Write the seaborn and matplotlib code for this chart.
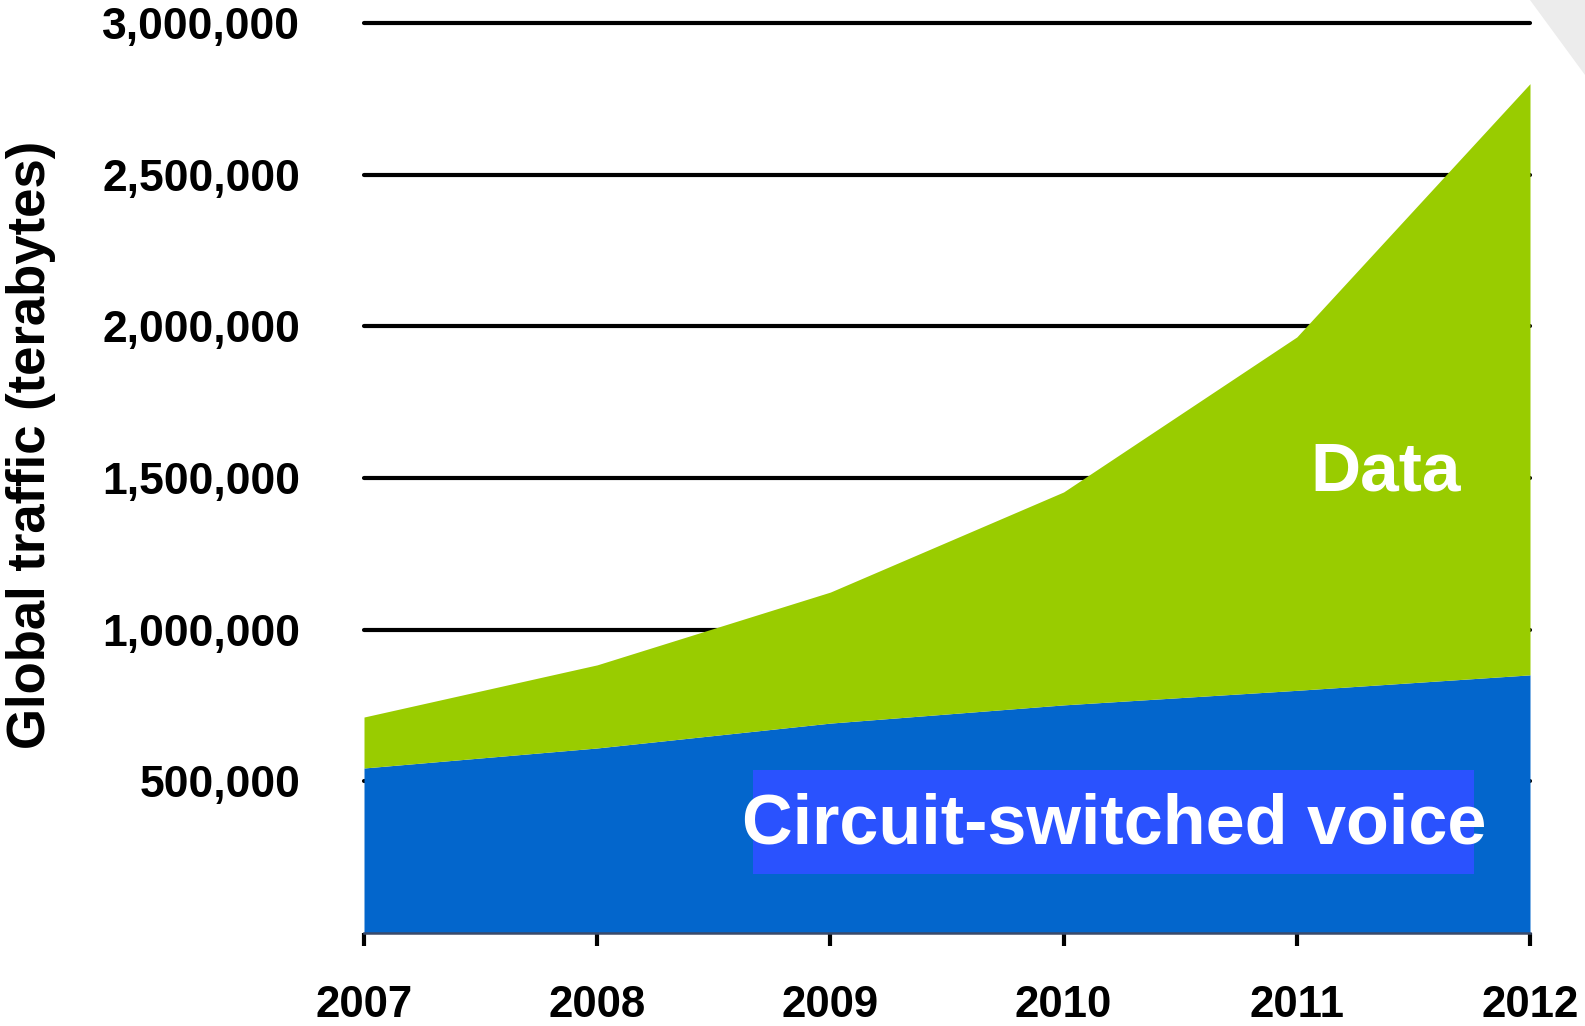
import numpy as np
import pandas as pd
import seaborn as sns
import matplotlib
matplotlib.use("Agg")
import matplotlib.pyplot as plt
from matplotlib.patches import Rectangle, Polygon

# ---- data ----
years = [2007, 2008, 2009, 2010, 2011, 2012]
voice = [544000, 610000, 692000, 752000, 800000, 851000]
data_traffic = [168000, 274000, 432000, 702000, 1165000, 1949000]
y_ticks = [500000, 1000000, 1500000, 2000000, 2500000, 3000000]
y_tick_labels = ["500,000", "1,000,000", "1,500,000", "2,000,000", "2,500,000", "3,000,000"]
series_names = ["Circuit-switched voice", "Data"]

sns.set_theme(style="white")
plt.rcParams['font.family'] = ['Liberation Sans', 'DejaVu Sans']

W, H = 1585, 1026
fig = plt.figure(figsize=(W / 100, H / 100), dpi=100)
ax = fig.add_axes([364 / W, 1 - 933 / H, (1530 - 364) / W, (933 - 23) / H])

df = pd.DataFrame({"year": years, "voice": voice, "data": data_traffic})

# gridlines beneath the areas
ax.set_axisbelow(True)
ax.yaxis.grid(True, color="black", linewidth=3.0)
ax.xaxis.grid(False)

ax.stackplot(df["year"], df["voice"], df["data"],
             colors=["#0366CC", "#99CC00"], labels=series_names,
             linewidth=0, zorder=2)

ax.set_xlim(years[0], years[-1])
ax.set_ylim(0, 3000000)
ax.set_yticks(y_ticks)
ax.set_yticklabels(y_tick_labels)
ax.set_xticks(years)
ax.set_xticklabels([str(y) for y in years])
for gl in ax.get_ygridlines():
    gl.set_clip_on(False)

for s in ["top", "right", "left"]:
    ax.spines[s].set_visible(False)
ax.spines["bottom"].set_color("#3a4a6a")
ax.spines["bottom"].set_linewidth(1.8)
ax.spines["bottom"].set_zorder(3)

ax.tick_params(axis="y", length=0, pad=46, labelsize=32)
ax.tick_params(axis="x", direction="out", length=9.5, width=3.0, color="black",
               pad=28, labelsize=31.5, bottom=True)
for lab in ax.get_yticklabels() + ax.get_xticklabels():
    lab.set_fontweight("bold")
    lab.set_color("black")

ax.set_ylabel("Global traffic (terabytes)", fontsize=38, fontweight="bold", color="black")
ax.yaxis.set_label_coords(-(364 - 31) / (1530 - 364), 0.536)
ax.yaxis.label.set_horizontalalignment("center")
ax.yaxis.label.set_verticalalignment("center")

# labels inside areas
ax.add_patch(Rectangle((0.3336, 0.0648), 0.952 - 0.3336, 0.179 - 0.0648,
                       transform=ax.transAxes, facecolor="#2A52FE",
                       edgecolor="none", zorder=3))
ax.text(0.643, 0.118, series_names[0], transform=ax.transAxes, ha="center", va="center",
        fontsize=50.5, fontweight="bold", color="white", zorder=4)
ax.text(0.8765, 0.5055, series_names[1], transform=ax.transAxes, ha="center", va="center",
        fontsize=50, fontweight="bold", color="white", zorder=4)

# decorative corner
fig.patches.append(Polygon([(1530 / W, 1.0), (1.0, 1.0), (1.0, 1 - 75 / H)],
                           closed=True, transform=fig.transFigure,
                           facecolor="#ececec", edgecolor="none"))

fig.savefig("out.png", dpi=100)
